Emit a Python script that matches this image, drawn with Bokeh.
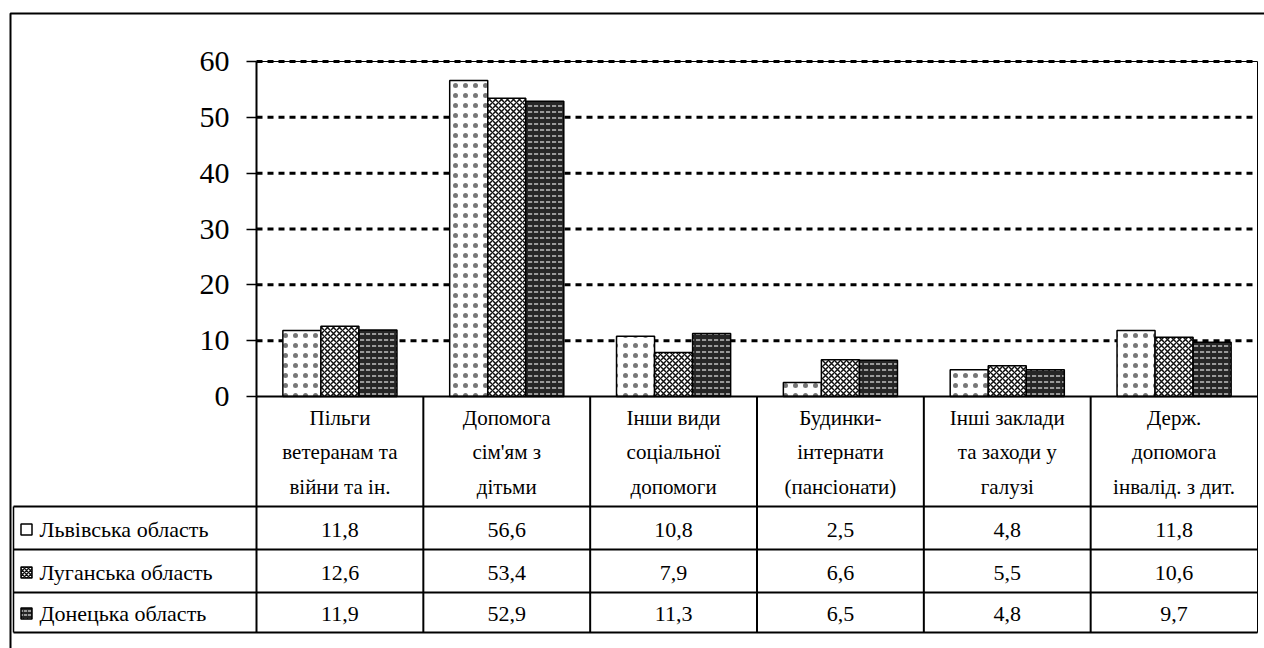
import numpy as np
from bokeh.plotting import figure
from bokeh.models import Range1d, LinearAxis, FixedTicker
from bokeh.core.properties import value
from bokeh.embed import file_html
from bokeh.resources import INLINE

# ---------------- data ----------------
categories = [
    "Пільги\nветеранам та\nвійни та ін.",
    "Допомога\nсім'ям з\nдітьми",
    "Інши види\nсоціальної\nдопомоги",
    "Будинки-\nінтернати\n(пансіонати)",
    "Інші заклади\nта заходи у\nгалузі",
    "Держ.\nдопомога\nінвалід. з дит.",
]
series_names = ["Львівська область", "Луганська область", "Донецька область"]
lviv = [11.8, 56.6, 10.8, 2.5, 4.8, 11.8]
luhansk = [12.6, 53.4, 7.9, 6.6, 5.5, 10.6]
donetsk = [11.9, 52.9, 11.3, 6.5, 4.8, 9.7]
y_ticks = [0, 10, 20, 30, 40, 50, 60]

# ---------------- layout helpers (pixel -> data) ----------------
W, H = 1264, 648
AX_L, AX_R = 256, 1257
Y0, Y60 = 396, 61
SX = (AX_R - AX_L) / len(categories)
SY = (Y0 - Y60) / 60.0

def dx(px):
    return (px - AX_L) / SX

def dy(py):
    return (Y0 - py) / SY

FONT = value("Liberation Serif")

styles = [
    dict(fill_color="white", hatch_pattern="dot", hatch_color="#777777", hatch_scale=10, hatch_weight=1),
    dict(fill_color="white", hatch_pattern="diagonal_cross", hatch_color="#111111", hatch_scale=6, hatch_weight=1.5),
    dict(fill_color="#262626", hatch_pattern="horizontal_dash", hatch_color="#d8d8d8", hatch_scale=6, hatch_weight=1.3),
]

p = figure(width=W, height=H, x_range=Range1d(dx(0), dx(W)), y_range=Range1d(dy(H), dy(0)),
           x_axis_location=None, y_axis_location=None, toolbar_location=None,
           output_backend="svg", min_border=0, outline_line_color=None)
p.grid.visible = False
p.background_fill_color = "white"
p.border_fill_color = "white"

# outer frame
p.line([dx(10), dx(10), dx(W + 10)], [dy(H + 10), dy(13), dy(13)], line_color="black", line_width=2)

# dotted gridlines
n = len(categories)
for t in y_ticks[1:]:
    p.segment(x0=0, y0=t, x1=n, y1=t, line_color="black", line_width=3, line_dash="6 5")

# plot area border (top & right)
p.line([0, n, n], [60, 60, dy(632)], line_color="black", line_width=1)

# bars
bw = 0.228
xc = np.arange(n) + 0.5
for k, vals in enumerate([lviv, luhansk, donetsk]):
    p.vbar(x=xc + (k - 1) * bw, top=vals, bottom=0, width=bw, line_color="black", line_width=1.5, **styles[k])

# y axis at x = 0
yax = LinearAxis(fixed_location=0, bounds=(0, 60), ticker=FixedTicker(ticks=y_ticks))
yax.axis_line_width = 2
yax.axis_line_color = "black"
yax.major_tick_out = 10
yax.major_tick_in = 0
yax.major_tick_line_width = 1.5
yax.minor_tick_out = 0
yax.minor_tick_in = 0
yax.major_label_standoff = 17
yax.major_label_text_font = "Liberation Serif"
yax.major_label_text_font_size = "30px"
yax.major_label_text_color = "black"
p.add_layout(yax, "left")

# ---------------- data table ----------------
row_lines_px = [506, 549, 592, 632]
row_centers_px = [529, 572, 613]
p.segment(x0=0, y0=0, x1=n, y1=0, line_color="black", line_width=2)
for r in row_lines_px:
    p.segment(x0=dx(13), y0=dy(r), x1=n, y1=dy(r), line_color="black", line_width=2)
for i in range(n + 1):
    p.segment(x0=i, y0=0, x1=i, y1=dy(632), line_color="black", line_width=2 if i < n else 1)
p.segment(x0=dx(13), y0=dy(506), x1=dx(13), y1=dy(632), line_color="black", line_width=1.5)

p.text(x=xc, y=[dy(452)] * n, text=categories, text_align="center", text_baseline="middle",
       text_font=FONT, text_font_size="21px", text_color="black", text_line_height=1.45)

for k, vals in enumerate([lviv, luhansk, donetsk]):
    labels = [f"{v:.1f}".replace(".", ",") for v in vals]
    p.text(x=xc, y=[dy(row_centers_px[k])] * n, text=labels, text_align="center", text_baseline="middle",
           text_font=FONT, text_font_size="22px", text_color="black")

for k in range(3):
    st = dict(styles[k])
    if k == 0:
        st = dict(fill_color="white")
    else:
        st["hatch_scale"] = 4
    p.rect(x=[dx(26)], y=[dy(row_centers_px[k])], width=11, height=11, width_units="screen",
           height_units="screen", line_color="black", line_width=1.5, **st)
p.text(x=[dx(39)] * 3, y=[dy(c) for c in row_centers_px], text=series_names, text_align="left",
       text_baseline="middle", text_font=FONT, text_font_size="22px", text_color="black")

open("out.html", "w").write(file_html(p, INLINE))
